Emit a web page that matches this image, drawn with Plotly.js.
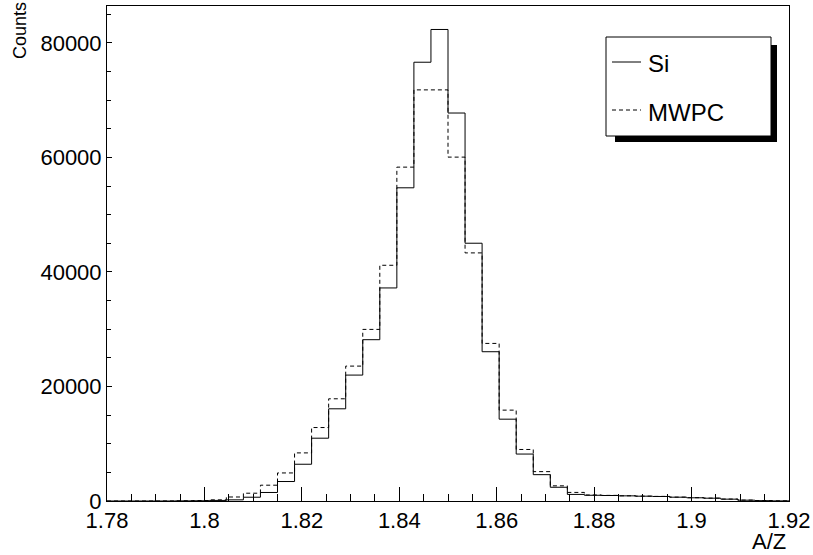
<!DOCTYPE html>
<html>
<head>
<meta charset="utf-8">
<script src="https://cdn.plot.ly/plotly-3.0.1.min.js"></script>
<style>
  html, body { margin: 0; padding: 0; background: #ffffff; }
  #chart { width: 813px; height: 555px; }
</style>
</head>
<body>
<div id="chart"></div>
<script>
// ---- Data ----
const binLow = 1.78;
const binWidth = 0.0035;
const nBins = 40;

// Counts per bin, solid histogram "Si"
const siCounts = [
  0, 0, 0, 0, 20, 40, 100, 200, 660, 1490,
  3400, 6420, 10970, 16100, 21990, 28170, 37210, 54700, 76630, 82350,
  67760, 45020, 26070, 14290, 8200, 4600, 2400, 1150, 1000, 960,
  900, 840, 790, 665, 560, 490, 320, 140, 60, 20
];

// Counts per bin, dashed histogram "MWPC"
const mwpcCounts = [
  0, 0, 0, 10, 40, 80, 200, 700, 1360, 2760,
  4900, 8400, 12830, 17850, 23560, 29970, 41170, 58310, 71800, 71800,
  60060, 43330, 27520, 15870, 9000, 5130, 2650, 1500, 1050, 980,
  910, 850, 800, 680, 580, 500, 340, 160, 80, 30
];

const seriesNames = ['Si', 'MWPC'];

const xTickVals = [1.78, 1.80, 1.82, 1.84, 1.86, 1.88, 1.90, 1.92];
const xTickText = ['1.78', '1.8', '1.82', '1.84', '1.86', '1.88', '1.9', '1.92'];
const yTickVals = [0, 20000, 40000, 60000, 80000];
const yTickText = ['0', '20000', '40000', '60000', '80000'];

const xTitle = 'A/Z';
const yTitle = 'Counts';

// ---- Build step outlines from bins ----
function stepTrace(counts, name, dash) {
  const xs = [], ys = [];
  for (let i = 0; i < counts.length; i++) {
    xs.push(binLow + i * binWidth);
    ys.push(counts[i]);
  }
  xs.push(binLow + counts.length * binWidth);
  ys.push(counts[counts.length - 1]);
  return {
    type: 'scatter', mode: 'lines', name: name,
    x: xs, y: ys,
    line: { shape: 'hv', color: '#000000', width: 1, dash: dash },
    hoverinfo: 'skip', showlegend: false
  };
}

const traces = [
  stepTrace(siCounts, seriesNames[0], 'solid'),
  stepTrace(mwpcCounts, seriesNames[1], '4px,3px')
];

// ---- Layout geometry (pixels) ----
const W = 813, H = 555;
const mL = 107, mR = 24, mT = 6, mB = 54;
const pw = W - mL - mR, ph = H - mT - mB;
function px(x) { return (x - mL) / pw; }
function py(y) { return (H - mB - y) / ph; }

const font = 'Liberation Sans, Arial, Helvetica, sans-serif';

const shapes = [
  // legend shadow
  { type: 'rect', xref: 'paper', yref: 'paper', x0: px(615), x1: px(777), y0: py(142), y1: py(45),
    fillcolor: '#000000', line: { width: 0 }, layer: 'above' },
  // legend box
  { type: 'rect', xref: 'paper', yref: 'paper', x0: px(606), x1: px(771), y0: py(136), y1: py(37),
    fillcolor: '#ffffff', line: { color: '#000000', width: 1 }, layer: 'above' },
  // legend samples
  { type: 'line', xref: 'paper', yref: 'paper', x0: px(612), x1: px(641), y0: py(62), y1: py(62),
    line: { color: '#000000', width: 1 }, layer: 'above' },
  { type: 'line', xref: 'paper', yref: 'paper', x0: px(612), x1: px(641), y0: py(110), y1: py(110),
    line: { color: '#000000', width: 1, dash: '4px,3px' }, layer: 'above' }
];

const annotations = [
  { xref: 'paper', yref: 'paper', x: px(646), y: py(64), text: seriesNames[0], showarrow: false,
    xanchor: 'left', yanchor: 'middle', font: { family: font, size: 24, color: '#000' } },
  { xref: 'paper', yref: 'paper', x: px(646), y: py(113), text: seriesNames[1], showarrow: false,
    xanchor: 'left', yanchor: 'middle', font: { family: font, size: 24, color: '#000' } },
  { xref: 'paper', yref: 'paper', x: px(788), y: py(541), text: xTitle, showarrow: false,
    xanchor: 'right', yanchor: 'middle', font: { family: font, size: 22, color: '#000' } },
  { xref: 'paper', yref: 'paper', x: px(20), y: py(31), text: yTitle, showarrow: false,
    textangle: -90, xanchor: 'center', yanchor: 'middle', font: { family: font, size: 18, color: '#000' } }
];

const layout = {
  width: W, height: H,
  margin: { l: mL, r: mR, t: mT, b: mB, pad: 0 },
  paper_bgcolor: '#ffffff', plot_bgcolor: '#ffffff',
  font: { family: font, size: 22, color: '#000000' },
  showlegend: false,
  xaxis: {
    range: [1.78, 1.92], showgrid: false, zeroline: false,
    showline: true, linecolor: '#000', linewidth: 1, mirror: true,
    tickmode: 'array', tickvals: xTickVals, ticktext: xTickText,
    ticks: 'inside', ticklen: 14, tickwidth: 1, tickcolor: '#000',
    tickfont: { family: font, size: 22, color: '#000' },
    minor: { tickmode: 'linear', tick0: 1.78, dtick: 0.005, ticks: 'inside', ticklen: 7, tickwidth: 1, tickcolor: '#000', showgrid: false }
  },
  yaxis: {
    range: [0, 86450], showgrid: false, zeroline: false,
    showline: true, linecolor: '#000', linewidth: 1, mirror: true,
    tickmode: 'array', tickvals: yTickVals, ticktext: yTickText,
    ticks: 'inside', ticklen: 5, tickwidth: 1, tickcolor: '#000',
    tickfont: { family: font, size: 22, color: '#000' },
    minor: { tickmode: 'linear', tick0: 0, dtick: 5000, ticks: 'inside', ticklen: 4, tickwidth: 1, tickcolor: '#000', showgrid: false }
  },
  shapes: shapes,
  annotations: annotations
};

Plotly.newPlot('chart', traces, layout, { staticPlot: true, displayModeBar: false });
</script>
</body>
</html>
